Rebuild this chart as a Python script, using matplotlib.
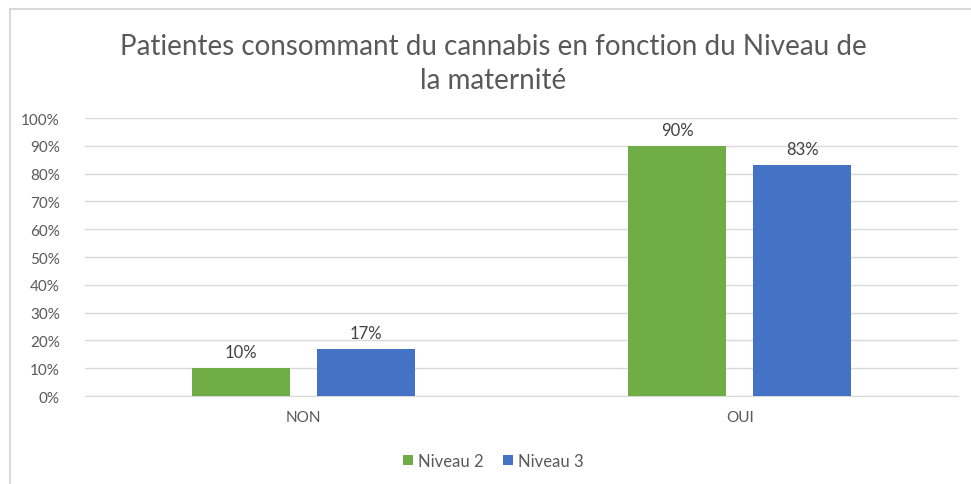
import numpy as np
import matplotlib.pyplot as plt
from matplotlib.lines import Line2D

categories = ['NON', 'OUI']
series = ['Niveau 2', 'Niveau 3']
niveau2 = [10, 90]
niveau3 = [17, 83]
colors = ['#70ad47', '#4472c4']

plt.rcParams['font.family'] = ['Lato', 'DejaVu Sans']

fig = plt.figure(figsize=(9.71, 4.85), dpi=100)
ax = fig.add_axes([0.0875, 0.1814, 0.8991, 0.5732])

x = np.arange(len(categories))
w = 0.224
gap = 0.062
off = (w + gap) / 2
for vals, dx, c, lab in [(niveau2, -off, colors[0], series[0]),
                         (niveau3, off, colors[1], series[1])]:
    bars = ax.bar(x + dx, vals, w, color=c, label=lab, zorder=3)
    for b, v in zip(bars, vals):
        ax.text(b.get_x() + b.get_width() / 2, v + 2.8, f'{v}%',
                ha='center', va='bottom', fontsize=12, color='#404040')

ax.set_xlim(-0.5, 1.5)
ax.set_ylim(0, 100)
ax.set_yticks(range(0, 101, 10))
ax.set_yticklabels([f'{t}%' for t in range(0, 101, 10)])
ax.set_xticks(x)
ax.set_xticklabels(categories)
ax.tick_params(length=0, labelsize=11, colors='#595959')
ax.tick_params(axis='x', pad=10)
ax.tick_params(axis='y', pad=18)
ax.grid(axis='y', color='#d9d9d9', linewidth=1, zorder=0)
for s in ['top', 'right', 'left']:
    ax.spines[s].set_visible(False)
ax.spines['bottom'].set_color('#d9d9d9')

fig.text(0.508, 1 - 64 / 485,
         'Patientes consommant du cannabis en fonction du Niveau de\nla maternité',
         ha='center', va='center', fontsize=20, color='#595959', linespacing=1.35)

handles, labels = ax.get_legend_handles_labels()
fig.legend(handles, labels, loc='center', bbox_to_anchor=(0.508, 0.048), ncol=2,
           frameon=False, fontsize=12, labelcolor='#595959',
           handlelength=0.6, handleheight=0.6, handletextpad=0.3, columnspacing=1.2)

# chart border (left and top only visible)
fig.add_artist(Line2D([10 / 971, 10 / 971], [0, 1 - 10 / 485], transform=fig.transFigure,
                      color='#d9d9d9', linewidth=1.5))
fig.add_artist(Line2D([10 / 971, 1], [1 - 10 / 485, 1 - 10 / 485], transform=fig.transFigure,
                      color='#d9d9d9', linewidth=1.5))

fig.savefig('out.png', dpi=100, facecolor='white')
